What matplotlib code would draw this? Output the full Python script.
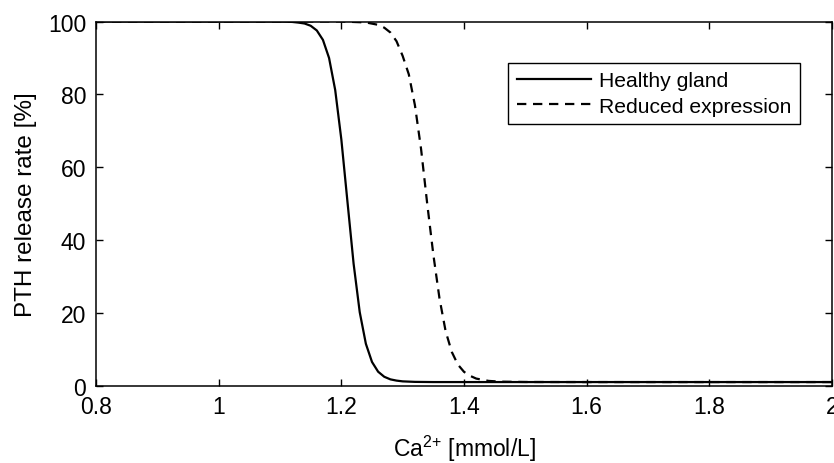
import matplotlib
matplotlib.use("Agg")
import matplotlib.pyplot as plt

plt.rcParams['font.family'] = ['Liberation Sans', 'DejaVu Sans']
plt.rcParams['mathtext.fontset'] = 'custom'
plt.rcParams['mathtext.rm'] = 'Liberation Sans'

# Healthy gland
ca_healthy = [0.80, 0.90, 1.00, 1.05, 1.10, 1.12, 1.13, 1.14, 1.15, 1.16, 1.17, 1.18,
              1.19, 1.20, 1.21, 1.22, 1.23, 1.24, 1.25, 1.26, 1.27, 1.28, 1.29,
              1.30, 1.32, 1.35, 1.40, 1.60, 1.80, 2.00]
pth_healthy = [100.0, 100.0, 100.0, 100.0, 100.0, 99.88, 99.7, 99.45, 98.83, 97.54, 94.95, 89.98,
               81.19, 67.63, 50.5, 33.5, 20.18, 11.51, 6.52, 3.84, 2.45, 1.74, 1.4,
               1.19, 1.05, 1.0, 1.0, 1.0, 1.0, 1.0]

# Reduced expression
ca_reduced = [0.80, 0.90, 1.00, 1.10, 1.20, 1.24, 1.26, 1.27, 1.28, 1.29, 1.30, 1.31,
              1.32, 1.33, 1.34, 1.35, 1.36, 1.37, 1.38, 1.39, 1.40, 1.41, 1.42,
              1.44, 1.46, 1.50, 1.60, 1.80, 2.00]
pth_reduced = [100.0, 100.0, 100.0, 100.0, 100.0, 99.74, 99.09, 98.3, 96.98, 94.58, 90.54, 85.5,
               77.0, 65.0, 50.0, 36.0, 24.0, 15.0, 9.3, 5.8, 3.81, 2.7, 1.95,
               1.32, 1.11, 1.02, 1.0, 1.0, 1.0]

labels = ["Healthy gland", "Reduced expression"]
x_ticks = [0.8, 1.0, 1.2, 1.4, 1.6, 1.8, 2.0]
x_ticklabels = ["0.8", "1", "1.2", "1.4", "1.6", "1.8", "2"]
y_ticks = [0, 20, 40, 60, 80, 100]

fig = plt.figure(figsize=(8.34, 4.64), dpi=100)
ax = fig.add_axes([96/834, 1-386.7/464, (832-96)/834, (386.7-22.5)/464])

ax.plot(ca_healthy, pth_healthy, color='black', linewidth=1.6, linestyle='-', label=labels[0])
ax.plot(ca_reduced, pth_reduced, color='black', linewidth=1.6, linestyle=(0, (4.2, 3.0)), label=labels[1])

ax.set_xlim(0.8, 2.0)
ax.set_ylim(0, 100)
ax.set_xticks(x_ticks)
ax.set_xticklabels(x_ticklabels)
ax.set_yticks(y_ticks)
ax.tick_params(direction='in', length=5, width=1.0, top=True, right=True,
               labelsize=16.5, colors='black')
ax.tick_params(axis='x', pad=7)
ax.tick_params(axis='y', pad=7)
for s in ax.spines.values():
    s.set_linewidth(1.1)
    s.set_color('black')

ax.set_xlabel("Ca$^{2{+}}$ [mmol/L]", fontsize=16.5, labelpad=10)
ax.set_ylabel("PTH release rate [%]", fontsize=17.5, labelpad=8)

leg = ax.legend(loc='upper right', bbox_to_anchor=(0.9565, 0.886), fontsize=15.2,
                handlelength=3.5, handletextpad=0.4, borderpad=0.4, labelspacing=0.3,
                fancybox=False, framealpha=1, edgecolor='black', borderaxespad=0)
leg.get_frame().set_linewidth(1.0)

fig.savefig("out.png", dpi=100)
